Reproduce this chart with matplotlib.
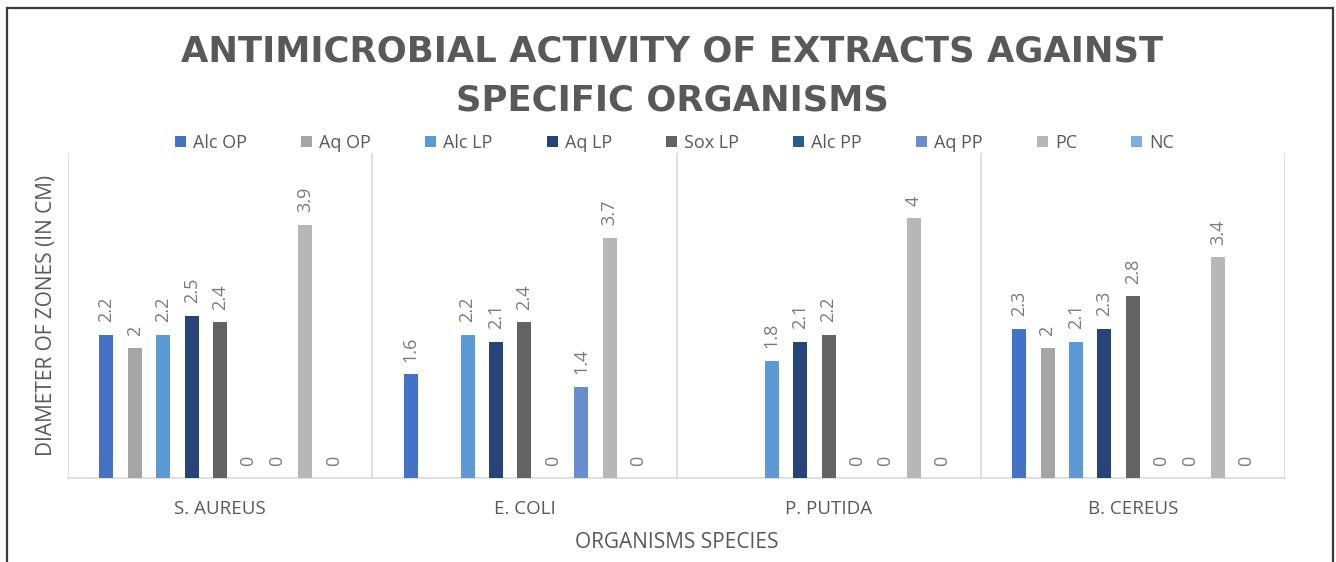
import numpy as np
import matplotlib
matplotlib.use("Agg")
import matplotlib.pyplot as plt
from matplotlib import font_manager
from matplotlib.patches import Rectangle

organisms = ["S. AUREUS", "E. COLI", "P. PUTIDA", "B. CEREUS"]
series_names = ["Alc OP", "Aq OP", "Alc LP", "Aq LP", "Sox LP", "Alc PP", "Aq PP", "PC", "NC"]
alc_op = [2.2, 1.6, np.nan, 2.3]
aq_op = [2.0, np.nan, np.nan, 2.0]
alc_lp = [2.2, 2.2, 1.8, 2.1]
aq_lp = [2.5, 2.1, 2.1, 2.3]
sox_lp = [2.4, 2.4, 2.2, 2.8]
alc_pp = [0, 0, 0, 0]
aq_pp = [0, 1.4, 0, 0]
pc = [3.9, 3.7, 4.0, 3.4]
nc = [0, 0, 0, 0]
series_values = [alc_op, aq_op, alc_lp, aq_lp, sox_lp, alc_pp, aq_pp, pc, nc]
colors = ["#4472C4", "#A5A5A5", "#5B9BD5", "#264478", "#636363",
          "#255E91", "#698ED0", "#B7B7B7", "#7CAFDD"]

title = "ANTIMICROBIAL ACTIVITY OF EXTRACTS AGAINST\nSPECIFIC ORGANISMS"
xlabel = "ORGANISMS SPECIES"
ylabel = "DIAMETER OF ZONES (IN CM)"

available = {f.name for f in font_manager.fontManager.ttflist}
def pick(*names):
    for n in names:
        if n in available:
            return n
    return "DejaVu Sans"

narrow = pick("Liberation Sans Narrow", "Open Sans", "Roboto", "DejaVu Sans")

fig = plt.figure(figsize=(13.36, 5.62), dpi=100)
fig.patch.set_facecolor("white")
ax = fig.add_axes([68/1336, (562-478)/562, (1285-68)/1336, (478-153)/562])

n = len(series_names)
slot = 28.4/304
width = 14/304
x = np.arange(len(organisms))
for j, (name, vals, c) in enumerate(zip(series_names, series_values, colors)):
    pos = x + (j - (n-1)/2) * slot
    vals = np.array(vals, dtype=float)
    ax.bar(pos, np.nan_to_num(vals), width=width, color=c, label=name, zorder=3)
    for p, v in zip(pos, vals):
        if np.isnan(v):
            continue
        ax.annotate(f"{v:g}", xy=(p, v), xytext=(0, 9), textcoords="offset points",
                    rotation=90, ha="center", va="bottom", fontsize=13,
                    color="#7a7a7a", family=narrow)

ax.set_xlim(-0.5, len(organisms) - 0.5)
ax.set_ylim(0, 5)
for b in np.arange(-0.5, len(organisms), 1.0):
    ax.axvline(b, color="#D9D9D9", lw=1.2, zorder=1)
for s in ["top", "right", "left"]:
    ax.spines[s].set_visible(False)
ax.spines["bottom"].set_color("#D9D9D9")
ax.spines["bottom"].set_linewidth(1.2)
ax.set_yticks([])
ax.set_xticks(x)
ax.set_xticklabels(organisms, fontsize=13.5, color="#595959", family=narrow)
ax.tick_params(axis="x", length=0, pad=16)
ax.set_xlabel(xlabel, fontsize=15, color="#595959", family=narrow, labelpad=10)
ax.set_ylabel(ylabel, fontsize=15, color="#595959", family=narrow, labelpad=8)

fig.text(0.503, (562-76)/562, title, ha="center", va="center", fontsize=25.5,
         fontweight="bold", color="#595959", family="DejaVu Sans", linespacing=1.55)

leg = ax.legend(ncol=9, loc="center", bbox_to_anchor=(0.505, (562-143)/562),
                bbox_transform=fig.transFigure, frameon=False,
                handlelength=0.6, handleheight=0.6, handletextpad=0.4,
                columnspacing=3.0, prop={"family": narrow, "size": 13})
for t in leg.get_texts():
    t.set_color("#595959")

fig.patches.append(Rectangle((7/1336, -0.02), (1333-7)/1336, (562-8)/562 + 0.02,
                             transform=fig.transFigure, fill=False,
                             edgecolor="#3a3a3a", lw=1.6, zorder=10))

fig.savefig("out.png", dpi=100, facecolor="white")
